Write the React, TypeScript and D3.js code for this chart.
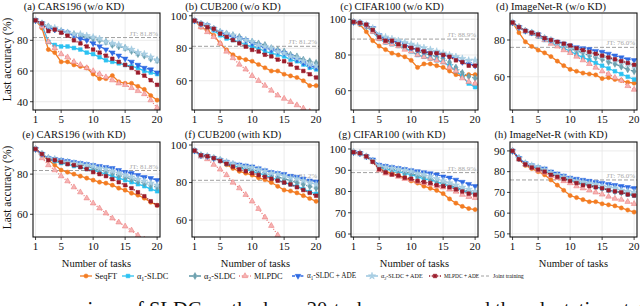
import React, { useRef, useEffect } from "react";
import * as d3 from "d3";

const TASKS = [1, 2, 3, 4, 5, 6, 7, 8, 9, 10, 11, 12, 13, 14, 15, 16, 17, 18, 19, 20];
const X_TICKS = [1, 5, 10, 15, 20];

const METHODS = ["SeqFT", "α1-SLDC", "α2-SLDC", "MLPDC", "α1-SLDC + ADE", "α2-SLDC + ADE", "MLPDC + ADE"];

// (a) CARS196 w/o KD
const aSeqFT = [93, 88, 74, 72, 66, 66, 64, 63, 62, 58, 55, 55, 57, 53, 52, 52, 50, 48, 44, 41];
const aA1 = [93, 90, 79, 77, 76, 76, 75, 74, 72, 71, 69, 67, 66, 65, 64, 63, 62, 60, 59, 58];
const aA2 = [93, 91, 89, 87, 86, 85, 84, 83, 82, 81, 80, 79, 77, 76, 75, 73, 71, 70, 68, 67];
const aMLP = [93, 89, 79, 75, 71, 69, 66, 64, 62, 60, 58, 56, 54, 52, 51, 49, 47, 45, 41, 36];
const aA1Ade = [93, 91, 88, 87, 86, 85, 83, 81, 80, 78, 76, 74, 72, 70, 68, 66, 64, 62, 61, 59];
const aA2Ade = [93, 91, 89, 88, 86, 85, 84, 84, 83, 82, 81, 79, 78, 77, 75, 74, 72, 71, 69, 67];
const aMLPAde = [93, 91, 86, 87, 85, 83, 80, 78, 76, 74, 72, 70, 68, 66, 64, 62, 59, 57, 54, 51];

// (b) CUB200 w/o KD
const bSeqFT = [97, 93, 91, 88, 83, 79, 76, 74, 73, 72, 70, 68, 66, 66, 64, 63, 62, 60, 57, 57];
const bA1 = [97, 95, 93, 91, 88, 86, 85, 84, 82, 81, 80, 78, 77, 76, 75, 73, 72, 70, 68, 67];
const bA2 = [97, 95, 94, 92, 90, 89, 88, 87, 85, 84, 83, 82, 80, 79, 78, 76, 75, 73, 72, 71];
const bMLP = [97, 93, 90, 87, 83, 78, 74, 70, 67, 63, 60, 57, 54, 51, 49, 47, 45, 43, 41, 39];
const bA1Ade = [97, 95, 94, 92, 90, 88, 87, 86, 85, 83, 82, 80, 79, 78, 77, 75, 73, 71, 69, 68];
const bA2Ade = [97, 95, 94, 92, 90, 89, 88, 86, 85, 84, 82, 81, 80, 78, 77, 75, 74, 72, 70, 69];
const bMLPAde = [97, 95, 93, 92, 89, 87, 85, 83, 81, 79, 78, 76, 75, 73, 72, 70, 68, 66, 64, 62];

// (c) CIFAR100 w/o KD
const cSeqFT = [98.5, 97, 93, 88, 85, 83, 81, 80, 79, 77, 73, 75, 75, 74, 73, 71, 69, 68, 69, 69];
const cA1 = [98.5, 98, 96, 93, 89, 87, 86, 85, 84, 82, 80, 79, 78, 77, 76, 74, 71, 68, 64, 62];
const cA2 = [98.5, 98, 96, 94, 90, 88, 87, 86, 85, 84, 82, 81, 80, 79, 78, 76, 73, 70, 68, 67];
const cMLP = [98.5, 98, 96, 93, 89, 87, 86, 85, 83, 82, 80, 79, 78, 77, 76, 73, 71, 67, 65, 64];
const cA1Ade = [98.5, 98, 97, 95, 91, 89, 88, 87, 86, 84, 83, 82, 81, 81, 80, 79, 78, 76, 75, 74];
const cA2Ade = [98.5, 98, 97, 95, 91, 90, 89, 88, 87, 86, 85, 84, 83, 82, 81, 80, 79, 78, 77, 77];
const cMLPAde = [98.5, 98, 97, 94, 90, 88, 88, 86, 85, 84, 83, 82, 81, 81, 80, 79, 77, 76, 74, 74];

// (d) ImageNet-R w/o KD
const dSeqFT = [89.5, 84, 79, 76.5, 74.5, 73, 71, 68.5, 66, 64, 63, 62, 61.5, 61, 59, 59.5, 58.5, 58, 57, 56.5];
const dA1 = [89.5, 87, 85, 83.5, 82, 80, 78.5, 77, 75.5, 74, 72, 70.5, 69, 67.5, 66, 64.5, 63, 61.5, 60, 58.5];
const dA2 = [89.5, 87, 85, 84, 82.5, 81, 79.5, 78, 77, 75.5, 74, 73, 71.5, 70.5, 69.5, 68, 67, 65.5, 64, 63];
const dMLP = [89.5, 87, 85, 83.5, 82, 80, 78, 76.5, 74.5, 73, 71, 69, 67, 65, 63, 61.5, 59.5, 58, 55, 53];
const dA1Ade = [89.5, 87, 85, 84, 83, 81, 80, 79, 78, 77, 76, 75.5, 75, 74, 73.5, 72.5, 71.5, 70.5, 69.5, 69];
const dA2Ade = [89.5, 87, 85, 84, 83, 81, 80, 78.5, 77.5, 76, 75, 74, 73, 72, 71, 70, 69, 68, 67, 66];
const dMLPAde = [89.5, 87, 85, 84, 83, 81, 80, 79, 78, 77, 75.5, 74.5, 73.5, 72.5, 71.5, 70.5, 69.5, 68.5, 67.5, 66.5];

// (e) CARS196 with KD
const eSeqFT = [92.5, 89.5, 87, 84.5, 82, 81, 80, 79, 78, 77, 76, 75.5, 74.5, 73, 72, 70.5, 69.5, 68, 66, 64.5];
const eA1 = [92.5, 90, 87.5, 86.5, 85.5, 85, 84, 83.5, 82.5, 82, 81, 80, 79, 78, 77, 76, 75, 74, 72.5, 71.5];
const eA2 = [92.5, 90, 88, 87, 86.5, 86, 85, 84.5, 84, 83, 82, 81.5, 80.5, 79.5, 78.5, 77.5, 76.5, 75.5, 74.5, 73.5];
const eMLP = [92.5, 88, 84.5, 82, 79, 76.5, 73.5, 71, 68, 65.5, 63, 60.5, 58, 56, 54, 52, 49.5, 47.5, 45.5, 43.5];
const eA1Ade = [92.5, 90, 88, 87.5, 87, 86.5, 86, 85.5, 85, 84.5, 84, 83.5, 83, 82, 81, 80.5, 79.5, 78.5, 78, 77];
const eA2Ade = [92.5, 90, 88, 87.5, 86.5, 86, 85.5, 85, 84.5, 84, 83, 82.5, 81.5, 80.5, 79.5, 78.5, 77.5, 76.5, 75.5, 74.5];
const eMLPAde = [92.5, 90, 87, 87, 86, 85, 84.5, 83.5, 82.5, 81, 80, 79, 77.5, 76, 74.5, 73, 71, 69, 66.5, 64.5];

// (f) CUB200 with KD
const fSeqFT = [97, 94.5, 94, 93, 92, 89.5, 87.5, 86, 85, 84, 82.5, 81.5, 80, 78, 76, 75.5, 74.5, 73, 71.5, 70];
const fA1 = [97, 94.5, 94, 93, 92, 90, 89, 88, 87, 86, 85, 84, 82.5, 81.5, 80, 79, 78, 76.5, 75, 74];
const fA2 = [97, 94.5, 94, 93, 92, 90.5, 89.5, 88.5, 87.5, 87, 86, 85, 84, 83, 82, 81, 80, 79, 78, 77];
const fMLP = [97, 94, 92.5, 89.5, 87, 84, 80, 77, 73.5, 70, 66, 61.5, 57, 52, 48, 45, 42, 39, 37, 35];
const fA1Ade = [97, 94.5, 94, 93, 92, 91, 90, 89.5, 89, 88.5, 87.5, 86.5, 85.5, 85, 84.5, 83.5, 83, 82, 81, 80.5];
const fA2Ade = [97, 94.5, 94, 93, 92, 91, 90, 89, 88.5, 88, 87, 86, 85, 84.5, 83.5, 82.5, 82, 81, 80, 79];
const fMLPAde = [97, 94.5, 94, 93, 91.5, 90, 88.5, 87, 86, 85, 84, 83, 82, 81, 80, 79, 77.5, 76, 74.5, 73];

// (g) CIFAR100 with KD
const gSeqFT = [98.5, 98, 96.5, 94, 91, 89.5, 88.5, 87.5, 86.5, 85, 84, 82.5, 81.5, 80.5, 79, 76.5, 74.5, 73, 72, 71.5];
const gA1 = [98.5, 98, 96.5, 94.5, 91.5, 90.5, 90, 89.5, 88.5, 88, 87, 86, 85.5, 84.5, 83.5, 82.5, 81.5, 80.5, 79.5, 79];
const gA2 = [98.5, 98, 96.5, 94.5, 91.5, 91, 90.5, 90, 89, 88.5, 87.5, 87, 86, 85, 84, 83, 82, 81, 80, 79.5];
const gMLP = [98.5, 98, 96.5, 94, 90, 88.5, 88, 87, 86, 85.5, 84.5, 84, 83.5, 82.5, 82, 81, 80, 78.5, 77.5, 77];
const gA1Ade = [98.5, 98, 96.5, 95, 92.5, 92, 91.5, 91, 90.5, 90, 89.5, 89, 88.5, 88, 87, 86.5, 85.5, 84.5, 83.5, 82.5];
const gA2Ade = [98.5, 98, 96.5, 94.5, 92, 91.5, 91, 90.5, 90, 89.5, 88.5, 88, 87, 86, 85, 84, 83, 82, 81, 80];
const gMLPAde = [98.5, 98, 96.5, 94, 90.5, 89, 88, 87.5, 86.5, 86, 85, 84.5, 84, 83, 82.5, 82, 81, 80, 79, 78.5];

// (h) ImageNet-R with KD
const hSeqFT = [90, 86, 83, 81.5, 80, 78.5, 76, 73.5, 71, 68.5, 67.5, 66.5, 65.5, 65.5, 64.5, 64, 63.5, 62.5, 61.5, 60.5];
const hA1 = [90, 86.5, 84, 82.5, 81.5, 80.5, 79, 78, 77, 76, 75, 74, 73.5, 72.5, 72, 71, 70.5, 70, 69, 68.5];
const hA2 = [90, 86.5, 84, 82.5, 81.5, 80.5, 79, 78, 77, 76, 75, 74.5, 73.5, 73, 72, 71.5, 70.5, 70, 69.5, 69];
const hMLP = [90, 86, 83.5, 82, 80.5, 79.5, 78, 77, 75.5, 74.5, 73, 72, 71, 70, 69, 68, 67, 66.5, 65.5, 64.5];
const hA1Ade = [90, 86.5, 84, 83, 82, 81.5, 80, 79, 78, 77, 76.5, 76, 75.5, 75, 74.5, 74, 73.5, 73, 72.5, 72];
const hA2Ade = [90, 86.5, 84, 83, 82, 81, 79.5, 78.5, 77.5, 76.5, 75.5, 75, 74.5, 74, 73, 72.5, 72, 71, 70.5, 70];
const hMLPAde = [90, 86, 83.5, 82, 81, 80, 78.5, 77.5, 76.5, 75.5, 74.5, 73.5, 73, 72.5, 72, 71, 70.5, 70, 69, 68.5];

const PANEL_TITLES = [
  "(a) CARS196 (w/o KD)", "(b) CUB200 (w/o KD)", "(c) CIFAR100 (w/o KD)", "(d) ImageNet-R (w/o KD)",
  "(e) CARS196 (with KD)", "(f) CUB200 (with KD)", "(g) CIFAR100 (with KD)", "(h) ImageNet-R (with KD)",
];
const JT_VALUES = [81.8, 81.2, 88.9, 76.0, 81.8, 81.2, 88.9, 76.0];
const Y_TICKS = [
  [40, 60, 80], [60, 80, 100], [60, 80, 100], [60, 80],
  [60, 80], [60, 80, 100], [60, 70, 80, 90, 100], [50, 60, 70, 80, 90],
];
const Y_DOMAINS: [number, number][] = [
  [34.6, 97.8], [42, 101.7], [49.2, 103.5], [41.9, 94.7],
  [48.7, 96], [51, 101.6], [58.6, 103.3], [48.5, 94.3],
];
const PANEL_SERIES = [
  [aSeqFT, aA1, aA2, aMLP, aA1Ade, aA2Ade, aMLPAde],
  [bSeqFT, bA1, bA2, bMLP, bA1Ade, bA2Ade, bMLPAde],
  [cSeqFT, cA1, cA2, cMLP, cA1Ade, cA2Ade, cMLPAde],
  [dSeqFT, dA1, dA2, dMLP, dA1Ade, dA2Ade, dMLPAde],
  [eSeqFT, eA1, eA2, eMLP, eA1Ade, eA2Ade, eMLPAde],
  [fSeqFT, fA1, fA2, fMLP, fA1Ade, fA2Ade, fMLPAde],
  [gSeqFT, gA1, gA2, gMLP, gA1Ade, gA2Ade, gMLPAde],
  [hSeqFT, hA1, hA2, hMLP, hA1Ade, hA2Ade, hMLPAde],
];

const STYLES = [
  { color: "#f37c22", fill: "#f37c22", dash: null, symbol: d3.symbolCircle, size: 14 },
  { color: "#2cc2f2", fill: "#2cc2f2", dash: null, symbol: d3.symbolSquare, size: 14 },
  { color: "#5e97a6", fill: "#6fa3b1", dash: "4,1.5,1,1.5", symbol: d3.symbolDiamond, size: 14 },
  { color: "#ea7878", fill: "#f6b3b3", dash: "1,1.8", symbol: d3.symbolTriangle, size: 14 },
  { color: "#2f6be3", fill: "#2f6be3", dash: "3,1.2", symbol: d3.symbolTriangle, size: 14, flip: true },
  { color: "#9cc6df", fill: "#a9cfe4", dash: "4,1.5,1,1.5", symbol: d3.symbolStar, size: 16 },
  { color: "#9b1c2b", fill: "#9b1c2b", dash: "1.2,1.5", symbol: d3.symbolSquare, size: 13 },
];

const FONT = "Liberation Serif, Times New Roman, DejaVu Serif, serif";
const COL_LEFT = [33, 192, 351, 510];
const ROW_TOP = [13, 142];
const PLOT_W = 127;
const ROW_H = [97, 95];
const LEGEND_TEXT_X = [95, 137, 204, 254, 307, 381, 444, 493];
const LEGEND_FONT = [8.3, 8.3, 8.3, 8.3, 7.2, 6.1, 5.4, 5.8];

const addMethodLabel = (
  sel: d3.Selection<SVGTextElement, unknown, null, undefined>,
  label: string,
  fs: number
) => {
  // write α1 / α2 with a subscript digit
  const m = label.match(/^α(\d)(.*)$/);
  if (!m) {
    sel.text(label);
    return;
  }
  sel.append("tspan").text("α");
  sel.append("tspan").attr("dy", fs * 0.25).attr("font-size", fs * 0.7).text(m[1]);
  sel.append("tspan").attr("dy", -fs * 0.25).text(m[2]);
};

export default function App() {
  const ref = useRef<SVGSVGElement | null>(null);

  useEffect(() => {
    if (!ref.current) return;
    const svg = d3.select(ref.current);
    svg.selectAll("*").remove();

    PANEL_SERIES.forEach((series, p) => {
      const col = p % 4;
      const row = Math.floor(p / 4);
      const left = COL_LEFT[col];
      const top = ROW_TOP[row];
      const h = ROW_H[row];

      const x = d3.scaleLinear().domain([0.6, 20.45]).range([0, PLOT_W]);
      const y = d3.scaleLinear().domain(Y_DOMAINS[p]).range([h, 0]);

      const g = svg.append("g").attr("transform", `translate(${left},${top})`);

      // grid
      g.selectAll(".gx")
        .data(X_TICKS)
        .enter()
        .append("line")
        .attr("x1", (d) => x(d))
        .attr("x2", (d) => x(d))
        .attr("y1", 0)
        .attr("y2", h)
        .attr("stroke", "#e6e6e6")
        .attr("stroke-width", 0.8);
      g.selectAll(".gy")
        .data(Y_TICKS[p])
        .enter()
        .append("line")
        .attr("x1", 0)
        .attr("x2", PLOT_W)
        .attr("y1", (d) => y(d))
        .attr("y2", (d) => y(d))
        .attr("stroke", "#e6e6e6")
        .attr("stroke-width", 0.8);

      // joint training line
      const jtY = y(JT_VALUES[p]);
      g.append("line")
        .attr("x1", 0)
        .attr("x2", PLOT_W)
        .attr("y1", jtY)
        .attr("y2", jtY)
        .attr("stroke", "#a0a0a0")
        .attr("stroke-width", 1)
        .attr("stroke-dasharray", "4,2");
      g.append("text")
        .attr("x", PLOT_W - 2)
        .attr("y", jtY - 2)
        .attr("text-anchor", "end")
        .attr("font-size", 7)
        .attr("fill", "#a8a8a8")
        .text(`JT: ${JT_VALUES[p].toFixed(1)}%`);

      const clipId = `clip-${p}`;
      g.append("clipPath").attr("id", clipId).append("rect").attr("width", PLOT_W).attr("height", h);
      const plot = g.append("g").attr("clip-path", `url(#${clipId})`);

      const line = d3
        .line<number>()
        .x((_, i) => x(TASKS[i]))
        .y((d) => y(d));

      series.forEach((vals, s) => {
        const st = STYLES[s];
        plot
          .append("path")
          .attr("d", line(vals))
          .attr("fill", "none")
          .attr("stroke", st.color)
          .attr("stroke-width", 1.3)
          .attr("stroke-dasharray", st.dash);
        const sym = d3.symbol().type(st.symbol).size(st.size)();
        plot
          .selectAll(null)
          .data(vals)
          .enter()
          .append("path")
          .attr("d", sym)
          .attr(
            "transform",
            (d, i) => `translate(${x(TASKS[i])},${y(d)})${st.flip ? " rotate(180)" : ""}`
          )
          .attr("fill", st.fill)
          .attr("stroke", st.color)
          .attr("stroke-width", 0.5);
      });

      // frame
      g.append("rect")
        .attr("width", PLOT_W)
        .attr("height", h)
        .attr("fill", "none")
        .attr("stroke", "#111")
        .attr("stroke-width", 1.1);

      // x ticks
      X_TICKS.forEach((t) => {
        g.append("line")
          .attr("x1", x(t))
          .attr("x2", x(t))
          .attr("y1", h)
          .attr("y2", h + 3)
          .attr("stroke", "#111")
          .attr("stroke-width", 0.8);
        g.append("text")
          .attr("x", x(t))
          .attr("y", h + 13)
          .attr("text-anchor", "middle")
          .attr("font-size", 11)
          .attr("fill", "#111")
          .text(t);
      });

      // y ticks
      Y_TICKS[p].forEach((t) => {
        g.append("line")
          .attr("x1", -3)
          .attr("x2", 0)
          .attr("y1", y(t))
          .attr("y2", y(t))
          .attr("stroke", "#111")
          .attr("stroke-width", 0.8);
        g.append("text")
          .attr("x", -5)
          .attr("y", y(t) + 3.8)
          .attr("text-anchor", "end")
          .attr("font-size", 11)
          .attr("fill", "#111")
          .text(t);
      });

      // panel title
      svg
        .append("text")
        .attr("x", left + 41)
        .attr("y", row === 0 ? 10 : 138)
        .attr("text-anchor", "middle")
        .attr("font-size", 10.5)
        .attr("fill", "#111")
        .text(PANEL_TITLES[p]);

      if (row === 1) {
        svg
          .append("text")
          .attr("x", left + PLOT_W / 2)
          .attr("y", 267)
          .attr("text-anchor", "middle")
          .attr("font-size", 10.5)
          .attr("fill", "#111")
          .text("Number of tasks");
      }
      if (col === 0) {
        svg
          .append("text")
          .attr("transform", `translate(11,${top + h / 2 - 2}) rotate(-90)`)
          .attr("text-anchor", "middle")
          .attr("font-size", 11.5)
          .attr("fill", "#111")
          .text("Last accuracy (%)");
      }
    });

    // legend
    const legendY = 276;
    const items = [...METHODS, "Joint training"];
    items.forEach((label, i) => {
      const tx = LEGEND_TEXT_X[i];
      const lg = svg.append("g");
      if (i < STYLES.length) {
        const st = STYLES[i];
        lg.append("line")
          .attr("x1", tx - 15)
          .attr("x2", tx - 3)
          .attr("y1", legendY)
          .attr("y2", legendY)
          .attr("stroke", st.color)
          .attr("stroke-width", 1.3)
          .attr("stroke-dasharray", st.dash);
        lg.append("path")
          .attr("d", d3.symbol().type(st.symbol).size(st.size)())
          .attr("transform", `translate(${tx - 9},${legendY})${st.flip ? " rotate(180)" : ""}`)
          .attr("fill", st.fill)
          .attr("stroke", st.color)
          .attr("stroke-width", 0.5);
      } else {
        lg.append("line")
          .attr("x1", tx - 12)
          .attr("x2", tx - 3)
          .attr("y1", legendY)
          .attr("y2", legendY)
          .attr("stroke", "#a0a0a0")
          .attr("stroke-width", 1)
          .attr("stroke-dasharray", "3,2");
      }
      const fs = LEGEND_FONT[i];
      const t = lg
        .append("text")
        .attr("x", tx)
        .attr("y", legendY + fs * 0.33)
        .attr("font-size", fs)
        .attr("fill", "#111");
      addMethodLabel(t, label, fs);
    });

    // caption below the figure (cut off by the frame)
    svg
      .append("text")
      .attr("x", 26)
      .attr("y", 316)
      .attr("font-size", 20.5)
      .attr("fill", "#111")
      .text("comparison of SLDC methods on 20-task sequences and the adaptation state of the");

    svg.selectAll("text").attr("font-family", FONT);
  }, []);

  return (
    <div style={{ position: "fixed", left: 0, top: 0, width: 640, height: 306, background: "#fff" }}>
      <svg ref={ref} width={640} height={306} fontFamily={FONT} />
    </div>
  );
}
